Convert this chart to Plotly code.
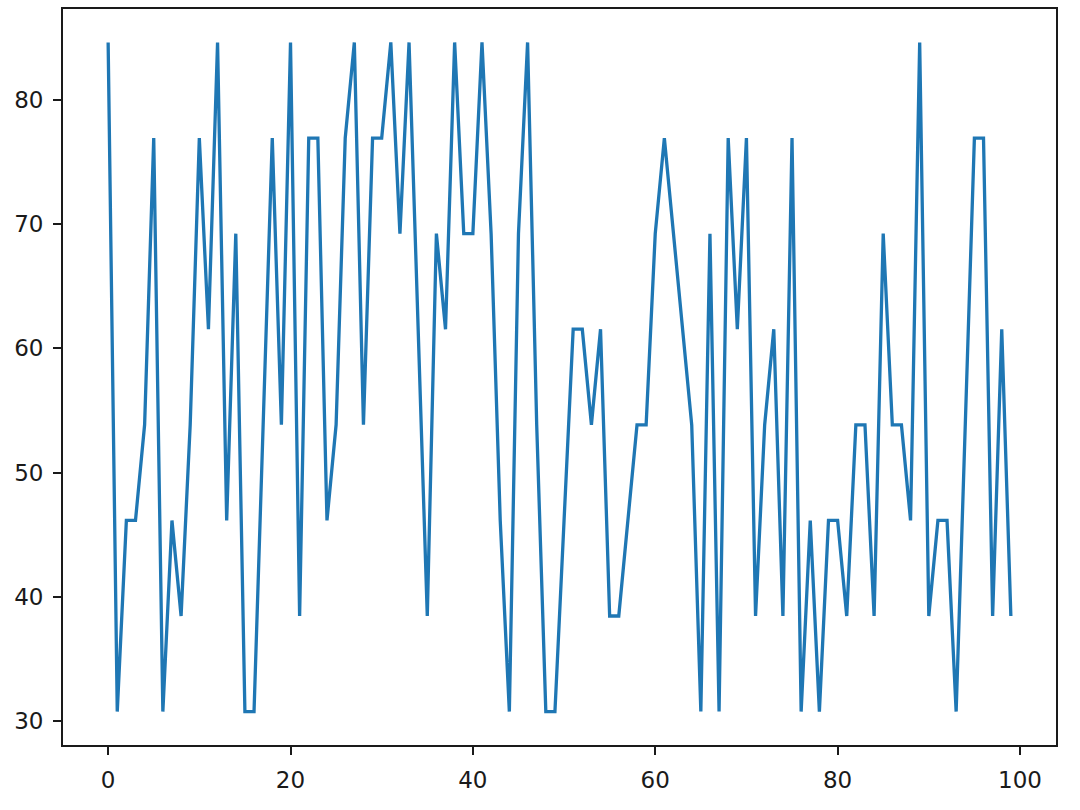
import plotly.graph_objects as go

x_values = list(range(100))
y_values = [
    84.62, 30.77, 46.15, 46.15, 53.85, 76.92, 30.77, 46.15, 38.46, 53.85,
    76.92, 61.54, 84.62, 46.15, 69.23, 30.77, 30.77, 53.85, 76.92, 53.85,
    84.62, 38.46, 76.92, 76.92, 46.15, 53.85, 76.92, 84.62, 53.85, 76.92,
    76.92, 84.62, 69.23, 84.62, 61.54, 38.46, 69.23, 61.54, 84.62, 69.23,
    69.23, 84.62, 69.23, 46.15, 30.77, 69.23, 84.62, 53.85, 30.77, 30.77,
    46.15, 61.54, 61.54, 53.85, 61.54, 38.46, 38.46, 46.15, 53.85, 53.85,
    69.23, 76.92, 69.23, 61.54, 53.85, 30.77, 69.23, 30.77, 76.92, 61.54,
    76.92, 38.46, 53.85, 61.54, 38.46, 76.92, 30.77, 46.15, 30.77, 46.15,
    46.15, 38.46, 53.85, 53.85, 38.46, 69.23, 53.85, 53.85, 46.15, 84.62,
    38.46, 46.15, 46.15, 30.77, 53.85, 76.92, 76.92, 38.46, 61.54, 38.46,
]
x_ticks = [0, 20, 40, 60, 80, 100]
y_ticks = [30, 40, 50, 60, 70, 80]

fig = go.Figure()
fig.add_trace(go.Scatter(
    x=x_values, y=y_values, mode="lines",
    line=dict(color="#1f77b4", width=3.3),
    showlegend=False,
))

axis_common = dict(
    showgrid=False, zeroline=False,
    showline=True, linecolor="#1a1a1a", linewidth=1.8, mirror=True,
    ticks="outside", ticklen=8, tickwidth=1.8, tickcolor="#1a1a1a",
    tickfont=dict(family="DejaVu Sans", size=23, color="#1a1a1a"),
    ticklabelstandoff=5,
)

fig.update_layout(
    width=1080, height=810,
    margin=dict(l=63, r=24, t=7, b=65),
    paper_bgcolor="white", plot_bgcolor="white",
    xaxis=dict(range=[-4.95, 103.95], tickvals=x_ticks, **axis_common),
    yaxis=dict(range=[28.08, 87.31], tickvals=y_ticks, **axis_common),
)

fig.write_html(
    "out.html",
    config={"displayModeBar": False},
    post_script="document.body.style.margin='0';document.body.style.overflow='hidden';",
)
